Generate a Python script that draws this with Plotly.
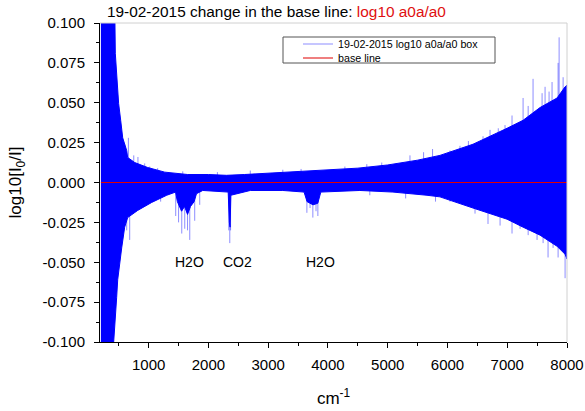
import plotly.graph_objects as go

# ---- data ----
# dense part of the spectrum: upper and lower envelopes
upper_x = [200, 435, 441, 475, 497, 531, 565, 632, 648, 766, 983, 1268, 1653, 2000, 2300,
           2600, 3000, 3500, 4000, 4500, 5000, 5500, 5874, 6427, 6997, 7265, 7549, 7834, 7968, 8000]
upper_y = [0.100, 0.100, 0.081, 0.060, 0.0495, 0.039, 0.028, 0.020, 0.0157, 0.0125, 0.0094, 0.0065,
           0.0050, 0.0050, 0.0045, 0.0050, 0.0058, 0.0068, 0.0080, 0.0090, 0.0110, 0.0140, 0.0170,
           0.0240, 0.0340, 0.0390, 0.0470, 0.0530, 0.0600, 0.0610]

lower_x = [200, 414, 464, 481, 548, 598, 648, 816, 1050, 1302, 1450, 1480, 1550, 1600, 1650, 1700,
           1760, 1800, 1905, 2330, 2350, 2362, 2375, 2700, 3244, 3600, 3650, 3750, 3830, 3880,
           4534, 5087, 5657, 5874, 6427, 6997, 7265, 7549, 7834, 7968, 8000]
lower_y = [-0.100, -0.100, -0.072, -0.061, -0.041, -0.028, -0.022, -0.0175, -0.0125, -0.008, -0.006,
           -0.012, -0.018, -0.015, -0.020, -0.015, -0.012, -0.007, -0.005, -0.006, -0.025, -0.028,
           -0.008, -0.005, -0.005, -0.006, -0.012, -0.014, -0.013, -0.006, -0.005, -0.006, -0.008,
           -0.009, -0.016, -0.023, -0.028, -0.033, -0.040, -0.045, -0.048]

# isolated spikes (tips)
spike_x = [598, 660, 750, 820, 933, 1017, 1150, 1570, 2150, 2700, 3244, 3550, 4283, 4650, 4900,
           5372, 5600, 5750, 6042, 6209, 6350, 6595, 6712, 6850, 6963, 7080, 7265, 7350, 7432,
           7583, 7633, 7700, 7750, 7868, 7851, 7935,
           632, 682, 1200, 1452, 1500, 1553, 1603, 1650, 1687, 1770, 1854, 2340, 2357, 2370,
           3647, 3700, 3747, 3800, 3831, 4700, 5300, 5800, 6042, 6209, 6461, 6678, 6880, 7080,
           7215, 7350, 7499, 7600, 7683, 7767, 7851, 7968]
spike_y = [0.024, 0.028, 0.017, 0.016, 0.012, 0.010, 0.009, 0.007, 0.0065, 0.0075, 0.0080,
           0.0085, 0.0100, 0.0115, 0.0125, 0.0170, 0.0190, 0.0210, 0.020, 0.023, 0.026, 0.029,
           0.033, 0.034, 0.036, 0.042, 0.053, 0.048, 0.065, 0.056, 0.060, 0.057, 0.063, 0.091,
           0.075, 0.066,
           -0.030, -0.036, -0.012, -0.021, -0.025, -0.032, -0.029, -0.030, -0.036, -0.024, -0.014,
           -0.030, -0.038, -0.030, -0.019, -0.016, -0.022, -0.018, -0.021, -0.008, -0.010, -0.012,
           -0.012, -0.011, -0.0195, -0.026, -0.027, -0.032, -0.029, -0.033, -0.036, -0.038,
           -0.047, -0.041, -0.047, -0.060]

base_x = [200, 8000]
base_y = [0.0, 0.0]

labels = ["H2O", "CO2", "H2O"]
label_x = [1690, 2490, 3870]
label_y = [-0.050, -0.050, -0.050]

x_ticks = [1000, 2000, 3000, 4000, 5000, 6000, 7000, 8000]
y_ticks = [-0.100, -0.075, -0.050, -0.025, 0.000, 0.025, 0.050, 0.075, 0.100]

BLUE = "#0000FF"

fig = go.Figure()

# dense filled band
fig.add_trace(go.Scatter(
    x=upper_x + lower_x[::-1], y=upper_y + lower_y[::-1],
    mode="lines", fill="toself", fillcolor=BLUE,
    line=dict(color=BLUE, width=1), showlegend=False, hoverinfo="skip"))

# spikes
sx, sy = [], []
for xv, yv in zip(spike_x, spike_y):
    sx += [xv, xv, None]
    sy += [0, yv, None]
fig.add_trace(go.Scatter(
    x=sx, y=sy, mode="lines", line=dict(color="rgba(0,0,255,0.45)", width=1),
    name="19-02-2015 log10 a0a/a0 box", legend="legend"))

# base line
fig.add_trace(go.Scatter(
    x=base_x, y=base_y, mode="lines", line=dict(color="#E00000", width=1.2),
    name="base line", legend="legend2"))

for t, xv, yv in zip(labels, label_x, label_y):
    fig.add_annotation(x=xv, y=yv, text=t, showarrow=False,
                       font=dict(family="Arial", size=14, color="black"))

L, R, T, B = 100, 18, 23, 69
W, H = 585, 411
pw, ph = W - L - R, H - T - B

leg_common = dict(xanchor="left", yanchor="middle", bgcolor="rgba(0,0,0,0)", borderwidth=0,
                  font=dict(family="Arial", size=10.7, color="black"))

fig.update_layout(
    width=W, height=H,
    margin=dict(l=L, r=R, t=T, b=B, autoexpand=False),
    paper_bgcolor="white", plot_bgcolor="white",
    font=dict(family="Arial", size=14, color="black"),
    title=dict(text='19-02-2015 change in the base line: <span style="color:#E01010">log10 a0a/a0</span>',
               x=107 / W, xref="container", xanchor="left",
               y=1 - 12 / H, yref="container", yanchor="middle",
               font=dict(family="Arial", size=15.4, color="black")),
    legend=dict(x=(298 - L) / pw, y=1 - (44 - T) / ph, **leg_common),
    legend2=dict(x=(298 - L) / pw, y=1 - (58 - T) / ph, **leg_common),
    showlegend=True,
)

fig.update_xaxes(
    range=[185, 8000], tickvals=x_ticks, ticktext=[str(v) for v in x_ticks],
    showgrid=False, zeroline=False, showline=True, linecolor="black", linewidth=1,
    ticks="outside", ticklen=5, tickcolor="black", ticklabelstandoff=4, automargin=False,
    minor=dict(dtick=500, tick0=0, ticks="outside", ticklen=3, tickcolor="black"),
    tickfont=dict(family="Arial", size=15),
    title=dict(text="cm<sup>-1</sup>", font=dict(family="Arial", size=17), standoff=20))

fig.update_yaxes(
    range=[-0.1, 0.1], tickvals=y_ticks, ticktext=["%.3f" % v for v in y_ticks],
    showgrid=False, zeroline=False, showline=True, linecolor="black", linewidth=1,
    ticks="outside", ticklen=5, tickcolor="black", ticklabelstandoff=6, automargin=False,
    minor=dict(dtick=0.0125, tick0=0, ticks="outside", ticklen=3, tickcolor="black"),
    tickfont=dict(family="Arial", size=15),
    title=dict(text="log10[I<sub>0</sub>/I]", font=dict(family="Arial", size=17), standoff=16))

# light frame on top and right, legend box
fig.add_shape(type="line", xref="paper", yref="paper", x0=0, x1=1, y0=1, y1=1,
              line=dict(color="#d0d0d0", width=1))
fig.add_shape(type="line", xref="paper", yref="paper", x0=1, x1=1, y0=0, y1=1,
              line=dict(color="#d0d0d0", width=1))
fig.add_shape(type="rect", xref="paper", yref="paper",
              x0=(283 - L) / pw, x1=(495 - L) / pw,
              y0=1 - (63 - T) / ph, y1=1 - (37 - T) / ph,
              line=dict(color="#555555", width=1))

fig.write_html("out.html", config={"displayModeBar": False},
               post_script="document.body.style.margin='0';document.body.style.padding='0';")
